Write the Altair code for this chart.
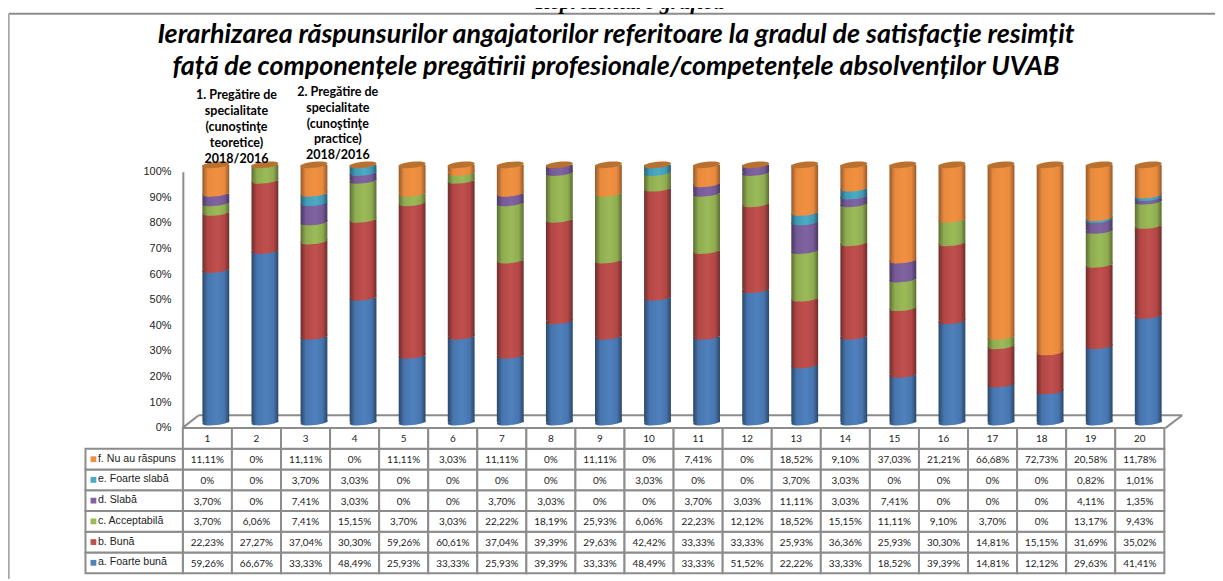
import altair as alt
import pandas as pd

items = list(range(1, 21))
f_vals = [11.11,0,11.11,0,11.11,3.03,11.11,0,11.11,0,7.41,0,18.52,9.10,37.03,21.21,66.68,72.73,20.58,11.78]
e_vals = [0,0,3.70,3.03,0,0,0,0,0,3.03,0,0,3.70,3.03,0,0,0,0,0.82,1.01]
d_vals = [3.70,0,7.41,3.03,0,0,3.70,3.03,0,0,3.70,3.03,11.11,3.03,7.41,0,0,0,4.11,1.35]
c_vals = [3.70,6.06,7.41,15.15,3.70,3.03,22.22,18.19,25.93,6.06,22.23,12.12,18.52,15.15,11.11,9.10,3.70,0,13.17,9.43]
b_vals = [22.23,27.27,37.04,30.30,59.26,60.61,37.04,39.39,29.63,42.42,33.33,33.33,25.93,36.36,25.93,30.30,14.81,15.15,31.69,35.02]
a_vals = [59.26,66.67,33.33,48.49,25.93,33.33,25.93,39.39,33.33,48.49,33.33,51.52,22.22,33.33,18.52,39.39,14.81,12.12,29.63,41.41]

series_names = ["a.  Foarte bună", "b.  Bună", "c. Acceptabilă", "d. Slabă", "e. Foarte slabă", "f. Nu au răspuns"]
series_values = [a_vals, b_vals, c_vals, d_vals, e_vals, f_vals]
mid_colors = ["#4775ae", "#b24745", "#8fac50", "#755a96", "#4299b4", "#e88a3e"]
dark_colors = ["#2a4769", "#6f2d2b", "#5a6d32", "#473760", "#265e70", "#96592a"]
light_colors = ["#4f81bd", "#c0504d", "#9bbb59", "#8064a2", "#4bacc6", "#f09040"]
cap_color = "#b8712f"
row_order = ["header"] + series_names[::-1]
title_lines = ["Ierarhizarea răspunsurilor angajatorilor referitoare la gradul de satisfacţie resimțit",
               "față de componențele pregătirii profesionale/competențele absolvenților UVAB"]
head_text = "Reprezentare grafică"
note1 = ["1. Pregătire de", "specialitate", "(cunoştinţe", "teoretice)", "2018/2016"]
note2 = ["2. Pregătire  de", "specialitate", "(cunoştinţe", "practice)", "2018/2016"]

GRAY = "#8c8c8c"
ELL = "M-1,0.1 C-1,-0.2 1,-0.4 1,-0.1 C1,0.2 -1,0.4 -1,0.1 Z"

def px(v): return v - 184
def py(v): return v - 8

x_enc = alt.X("n:O", scale=alt.Scale(domain=items, range=[0, 988], paddingInner=0, paddingOuter=0), axis=None)
bar_scale = alt.Scale(domain=[0, 100], range=[py(423), py(164)])
row_scale = alt.Scale(domain=row_order, range=[py(429), py(575)], paddingInner=0, paddingOuter=0)
one = alt.Data(values=[{"a": 0}])

def seg_line(x1, y1, x2, y2, width=2, color=GRAY):
    return alt.Chart(one).mark_rule(color=color, strokeWidth=width).encode(
        x=alt.value(px(x1)), y=alt.value(py(y1)), x2=alt.value(px(x2)), y2=alt.value(py(y2)))

def lines_text(lines, x, y, size, line_h, **kw):
    return alt.Chart(one).mark_text(text=lines, fontSize=size, lineHeight=line_h, align="center",
                                    baseline="alphabetic", **kw).encode(
        x=alt.value(px(x)), y=alt.value(py(y)))

def grad(i):
    return alt.Gradient(gradient="linear", x1=0, x2=1, y1=0, y2=0, stops=[
        alt.GradientStop(color=dark_colors[i], offset=0),
        alt.GradientStop(color=mid_colors[i], offset=0.2),
        alt.GradientStop(color=light_colors[i], offset=0.55),
        alt.GradientStop(color=mid_colors[i], offset=0.82),
        alt.GradientStop(color=dark_colors[i], offset=1),
    ])

layers = []
# frame
layers += [seg_line(8.7, 12, 1223, 12), seg_line(8.7, 12, 8.7, 581, color="#a6a6a6")]
# y axis + floor
axis_layer = alt.Chart(pd.DataFrame({"v": [0, 100]})).mark_line(opacity=0).encode(
    y=alt.Y("v:Q", scale=alt.Scale(domain=[0, 100], range=[py(428.5), py(171)]),
            axis=alt.Axis(values=list(range(0, 101, 10)), labelExpr="datum.value + '%'", ticks=False, grid=False,
                          title=None, domainColor=GRAY, domainWidth=2, labelPadding=12,
                          labelFont="Liberation Sans", labelFontSize=11, labelColor="#222222")))
layers.append(axis_layer)
layers += [seg_line(184, 428.5, 200, 416), seg_line(200, 416, 1190, 416), seg_line(1190, 416, 1173, 429)]

# stacked cylinders
base = [0.0] * 20
for i, vals in enumerate(series_values):
    rows = []
    for j, v in enumerate(vals):
        if v > 0:
            rows.append({"n": items[j], "y0": base[j], "y1": base[j] + v})
        base[j] += v
    df = pd.DataFrame(rows)
    layers.append(alt.Chart(df).mark_bar(size=27, color=grad(i), xOffset=8.5, orient="vertical").encode(
        x=x_enc, y=alt.Y("y0:Q", scale=bar_scale, axis=None), y2="y1:Q"))
    layers.append(alt.Chart(df).mark_point(filled=True, shape=ELL, size=729, color=grad(i), opacity=1,
                                           strokeWidth=0, xOffset=8.5).encode(
        x=x_enc, y=alt.Y("y0:Q", scale=bar_scale, axis=None)))
top = pd.DataFrame({"n": items, "t": base})
layers.append(alt.Chart(top).mark_point(filled=True, shape=ELL, size=729, color=cap_color, opacity=1,
                                        strokeWidth=0, xOffset=8.5).encode(
    x=x_enc, y=alt.Y("t:Q", scale=bar_scale, axis=None)))

# table
cells = []
for i, vals in enumerate(series_values):
    for j, v in enumerate(vals):
        lab = "0%" if v == 0 else f"{v:.2f}".replace(".", ",") + "%"
        cells.append({"n": items[j], "row": series_names[i], "label": lab})
for j in items:
    cells.append({"n": j, "row": "header", "label": str(j)})
cells = pd.DataFrame(cells)
y_row = alt.Y("row:N", scale=row_scale, axis=None)
layers.append(alt.Chart(cells).mark_rect(fill="white", stroke=GRAY, strokeWidth=2).encode(x=x_enc, y=y_row))
layers.append(alt.Chart(cells).mark_text(font="Lato", fontSize=10, color="#222222", dy=1).encode(
    x=x_enc, y=y_row, text="label:N"))

legend = pd.DataFrame({"row": series_names, "c": light_colors})
layers.append(alt.Chart(legend).mark_rect(fill="white", stroke=GRAY, strokeWidth=2).encode(
    x=alt.value(px(86)), x2=alt.value(0), y=y_row))
layers.append(alt.Chart(legend).mark_square(size=34, opacity=1).encode(
    x=alt.value(px(94)), y=y_row, fill=alt.Fill("c:N", scale=None), stroke=alt.value(None)))
layers.append(alt.Chart(legend).mark_text(font="Liberation Sans", fontSize=10.7, color="#222222", align="left", dy=-0.5).encode(
    x=alt.value(px(98.5)), y=y_row, text="row:N"))

# titles and notes
layers.append(lines_text(title_lines, 620, 41, 27, 33, font="Lato", fontWeight="bold", fontStyle="italic", color="black"))
layers.append(lines_text([head_text], 634, 7, 22, 22, font="Liberation Serif", fontWeight="bold", fontStyle="italic", color="black"))
layers.append(lines_text(note1, 238, 98, 12.6, 16, font="Lato", fontWeight="bold", color="black"))
layers.append(lines_text(note2, 340, 94.5, 12.6, 16, font="Lato", fontWeight="bold", color="black"))

chart = alt.layer(*layers).resolve_scale(y="independent").properties(
    width=988, height=573, background="white",
    padding={"left": 176, "top": 0, "right": 51, "bottom": 0},
    autosize=alt.AutoSizeParams(type="none"),
).configure_view(stroke=None)

chart.save("out.html", embed_options={"renderer": "svg", "actions": False})
